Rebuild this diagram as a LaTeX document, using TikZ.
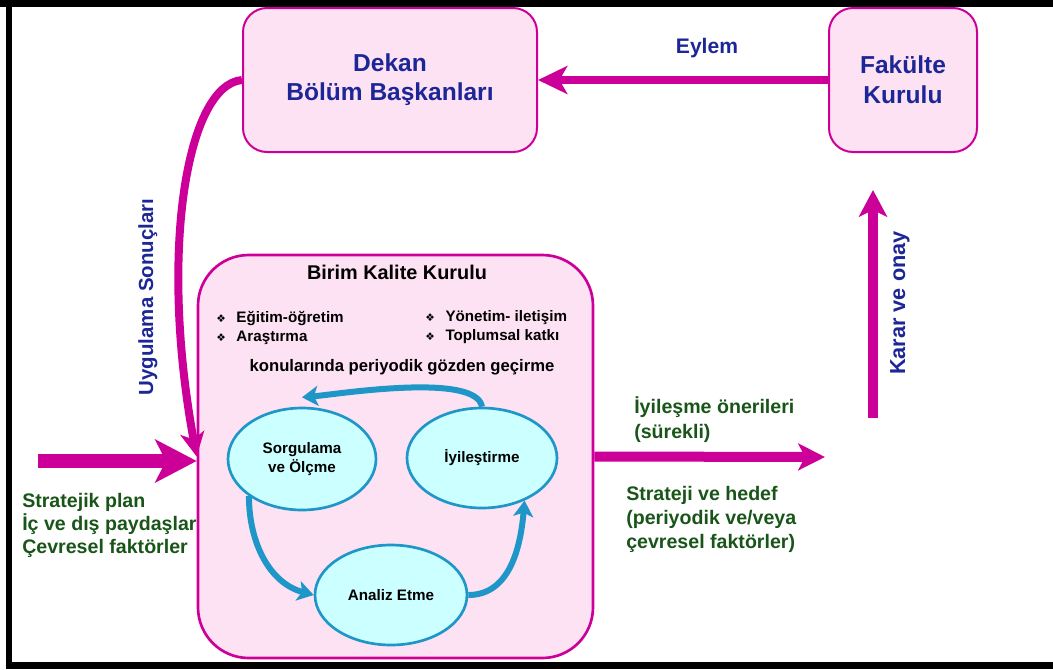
\documentclass[tikz,border=0pt]{standalone}
\usepackage{fontspec}
\setmainfont{Liberation Sans}
\newfontfamily\symfont{DejaVu Sans}
\usetikzlibrary{arrows.meta,calc,shapes.geometric}
\definecolor{MagClr}{RGB}{204,0,153}
\definecolor{PinkClr}{RGB}{253,226,243}
\definecolor{CycFill}{RGB}{204,255,255}
\definecolor{CycClr}{RGB}{30,150,200}
\definecolor{BlueTxt}{RGB}{28,38,150}
\definecolor{GreenTxt}{RGB}{25,85,25}
\newcommand{\bul}{{\symfont\fontsize{8}{8}\selectfont ❖}\hspace{8pt}}

\begin{document}
\begin{tikzpicture}[x=0.75pt,y=-0.75pt,
  box/.style={draw=MagClr,fill=PinkClr,line width=1.5pt,rounded corners=18pt},
  cyc/.style={ellipse,draw=CycClr,fill=CycFill,line width=2pt,inner sep=0pt,align=center,
    font=\bfseries\fontsize{11.4}{14.25}\selectfont},
  flow/.style={draw=MagClr,line width=#1},
  cycarrow/.style={draw=CycClr,line width=4.5pt,-{Stealth[length=12pt,width=15pt,inset=3pt]}},
  bluelbl/.style={text=BlueTxt,inner sep=0pt,font=\bfseries\fontsize{#1}{#1}\selectfont},
  greenlbl/.style={text=GreenTxt,inner sep=0pt,align=left,anchor=west,
    font=\bfseries\fontsize{14.7}{#1}\selectfont}]
\useasboundingbox (0,0) rectangle (1053,669);

% frame
\fill[black] (0,0) rectangle (1053,7);
\fill[black] (6,0) rectangle (12,669);
\fill[black] (6,662) rectangle (1053,669);

% boxes
\node[box,minimum width=220.5pt,minimum height=108pt,text=BlueTxt,align=center,
  font=\bfseries\fontsize{18.4}{21.75}\selectfont] (Dekan) at (390,80) {Dekan\\Bölüm Başkanları};
\node[box,minimum width=111pt,minimum height=108pt,text=BlueTxt,align=center,
  font=\bfseries\fontsize{18.4}{22.5}\selectfont] (Fakulte) at (903,80) {Fakülte\\Kurulu};
\node[box,line width=2pt,rounded corners=38pt,minimum width=296.25pt,minimum height=302.25pt] (Birim) at (395.5,456.5) {};

\node[font=\bfseries\fontsize{14.9}{18}\selectfont] (BirimT) at (397,272) {Birim Kalite Kurulu};
\node[anchor=west,inner sep=0pt,align=left,font=\bfseries\fontsize{11.4}{14.25}\selectfont] (Konu1) at (216,327.5) {\bul Eğitim-öğretim\\\bul Araştırma};
\node[anchor=west,inner sep=0pt,align=left,font=\bfseries\fontsize{11.4}{14.25}\selectfont] (Konu2) at (425,327.5) {\bul Yönetim- iletişim\\\bul Toplumsal katkı};
\node[font=\bfseries\fontsize{12.5}{15}\selectfont] (Konu3) at (402,367) {konularında periyodik gözden geçirme};

% cycle
\node[cyc,minimum width=111pt,minimum height=76.5pt] (Sorg) at (302,459) {Sorgulama\\ve Ölçme};
\node[cyc,minimum width=112.5pt,minimum height=75pt] (Iyi) at (482,458) {İyileştirme};
\node[cyc,minimum width=114pt,minimum height=75pt] (Analiz) at (391,595) {Analiz Etme};

\draw[cycarrow] (Iyi.north) to[out=100,in=5,looseness=0.5] ([yshift=7pt]Sorg.north);
\draw[cycarrow] (Sorg.215) to[out=-90,in=165] (Analiz.west);
\draw[cycarrow] (Analiz.east) to[out=0,in=-95] (Iyi.-45);

% labels
\node[bluelbl=15.8] (Eylem) at (707,48) {Eylem};
\node[bluelbl=16.3,rotate=90] (Karar) at (900,303) {Karar ve onay};
\node[bluelbl=15.3,rotate=90] (Uyg) at (148,297) {Uygulama Sonuçları};

\node[greenlbl=17.25] (Girdi) at (22,525) {Stratejik plan\\İç ve dış paydaşlar\\Çevresel faktörler};
\node[greenlbl=18.75] (Oneri) at (634,420) {İyileşme önerileri\\(sürekli)};
\node[greenlbl=18] (Hedef) at (626,519) {Strateji ve hedef\\(periyodik ve/veya\\çevresel faktörler)};

% flows
\coordinate (InL) at (38,461);
\coordinate (OutR) at (825,457);
\coordinate (KararA) at (873,418);
\coordinate (KararB) at (873,190);

\draw[flow=6pt,-{Stealth[length=22pt,width=21pt,inset=6pt]}] (Fakulte.west) -- (Dekan.east);
\draw[flow=6pt,-{Stealth[length=18pt,width=18pt,inset=5pt]}] (Dekan.west) .. controls +(-55,5) and +(-38,-206) .. (Birim.west);
\draw[flow=10pt,-{Stealth[length=31pt,width=32pt,inset=8pt]}] (InL) -- (Birim.west |- InL);
\draw[flow=7.5pt,-{Stealth[length=20pt,width=20pt,inset=5pt]}] (Birim.east) -- (OutR);
\draw[flow=7.5pt,-{Stealth[length=20pt,width=21pt,inset=5pt]}] (KararA) -- (KararB);

\end{tikzpicture}
\end{document}
